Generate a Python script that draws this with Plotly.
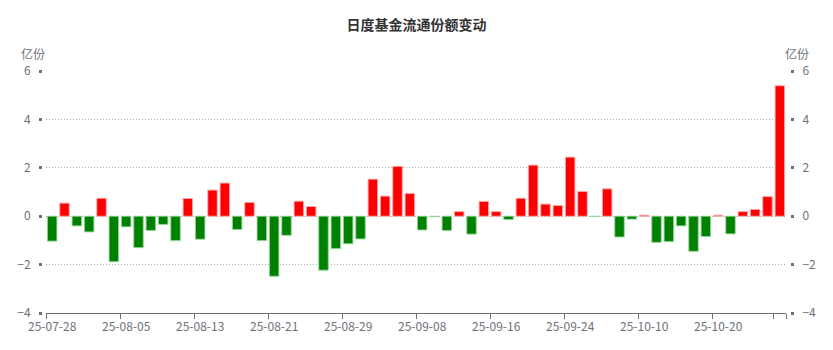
import plotly.graph_objects as go

dates = [
    "25-07-28", "25-07-29", "25-07-30", "25-07-31", "25-08-01",
    "25-08-04", "25-08-05", "25-08-06", "25-08-07", "25-08-08",
    "25-08-11", "25-08-12", "25-08-13", "25-08-14", "25-08-15",
    "25-08-18", "25-08-19", "25-08-20", "25-08-21", "25-08-22",
    "25-08-25", "25-08-26", "25-08-27", "25-08-28", "25-08-29",
    "25-09-01", "25-09-02", "25-09-03", "25-09-04", "25-09-05",
    "25-09-08", "25-09-09", "25-09-10", "25-09-11", "25-09-12",
    "25-09-15", "25-09-16", "25-09-17", "25-09-18", "25-09-19",
    "25-09-22", "25-09-23", "25-09-24", "25-09-25", "25-09-26",
    "25-09-29", "25-09-30", "25-10-09", "25-10-10",
    "25-10-13", "25-10-14", "25-10-15", "25-10-16", "25-10-17",
    "25-10-20", "25-10-21", "25-10-22", "25-10-23", "25-10-24",
    "25-10-27",
]

values = [
    -1.03, 0.54, -0.40, -0.65, 0.74,
    -1.88, -0.44, -1.30, -0.59, -0.34,
    -1.01, 0.73, -0.95, 1.08, 1.37,
    -0.55, 0.57, -1.01, -2.48, -0.79,
    0.62, 0.40, -2.23, -1.34, -1.14,
    -0.94, 1.53, 0.83, 2.06, 0.94,
    -0.57, -0.02, -0.59, 0.19, -0.74,
    0.61, 0.19, -0.14, 0.74, 2.11,
    0.50, 0.44, 2.44, 1.02, -0.01,
    1.13, -0.86, -0.12, 0.04,
    -1.08, -1.05, -0.40, -1.45, -0.84,
    0.04, -0.73, 0.19, 0.28, 0.81,
    5.39,
]

y_ticks = [-4, -2, 0, 2, 4, 6]
label_dates = dates[::6]
title_text = "日度基金流通份额变动"
unit_text = "亿份"

RED = "#ff0000"
GREEN = "#008000"
AXIS_GREY = "#6e7079"
FONT = "Noto Sans CJK SC"

colors = [RED if v >= 0 else GREEN for v in values]
edge = ["rgba(255,170,170,0.9)" if v >= 0 else "rgba(150,215,150,0.9)" for v in values]

W, H = 833, 350
L, R, T, B = 42, 43, 71, 37
paper_w = W - L - R
paper_h = H - T - B
x_dom = [(46 - L) / paper_w, (786 - L) / paper_w]

# tick positions: every 6th category plus the last one (unlabelled)
x_tickvals = label_dates + [dates[-1]]
x_ticktext = label_dates + [""]

fig = go.Figure()
fig.add_trace(go.Bar(
    x=dates, y=values,
    marker=dict(color=colors, line=dict(color=edge, width=1)),
    hovertemplate="%{x}: %{y}<extra></extra>",
))
fig.add_trace(go.Bar(x=dates, y=values, yaxis="y2", opacity=0, hoverinfo="skip",
                     marker=dict(color=colors)))

tick_font = dict(family=FONT, size=12, color=AXIS_GREY)

fig.update_layout(
    width=W, height=H,
    margin=dict(l=L, r=R, t=T, b=B, autoexpand=False),
    plot_bgcolor="white", paper_bgcolor="white",
    bargap=0.23, barmode="overlay", showlegend=False,
    font=dict(family=FONT, size=12, color=AXIS_GREY),
    title=dict(text="<b>" + title_text + "</b>", x=0.5, xref="container", xanchor="center",
               y=1 - 25 / H, yref="container", yanchor="middle",
               font=dict(family=FONT, size=14, color="#333333")),
    xaxis=dict(
        type="category", domain=x_dom, range=[-0.5, len(dates) - 0.5],
        tickmode="array", tickvals=x_tickvals, ticktext=x_ticktext,
        tickson="boundaries", ticks="outside", ticklen=5, tickcolor=AXIS_GREY,
        tickangle=0, automargin=False, ticklabelstandoff=3,
        showline=True, linecolor=AXIS_GREY, linewidth=1,
        showgrid=False, zeroline=False,
        tickfont=tick_font,
    ),
    yaxis=dict(
        range=[-4, 6], tickvals=y_ticks, anchor="free", position=0,
        ticks="outside", ticklen=3, tickwidth=3, tickcolor=AXIS_GREY,
        ticklabelstandoff=6, automargin=False,
        showline=False, showgrid=True, gridcolor="#b0b0b0", griddash="1px,2px", gridwidth=1,
        zeroline=False,
        tickfont=tick_font,
    ),
    yaxis2=dict(
        range=[-4, 6], tickvals=y_ticks, anchor="free", position=1,
        overlaying="y", side="right",
        ticks="outside", ticklen=3, tickwidth=3, tickcolor=AXIS_GREY,
        ticklabelstandoff=6, automargin=False,
        showline=False, showgrid=False, zeroline=False,
        tickfont=tick_font,
    ),
)

for px in (33, 797):
    fig.add_annotation(text=unit_text, x=(px - L) / paper_w, y=1 + (T - 53) / paper_h,
                       xref="paper", yref="paper", showarrow=False,
                       xanchor="center", yanchor="middle",
                       font=dict(family=FONT, size=12, color=AXIS_GREY))

fig.write_html("out.html")
